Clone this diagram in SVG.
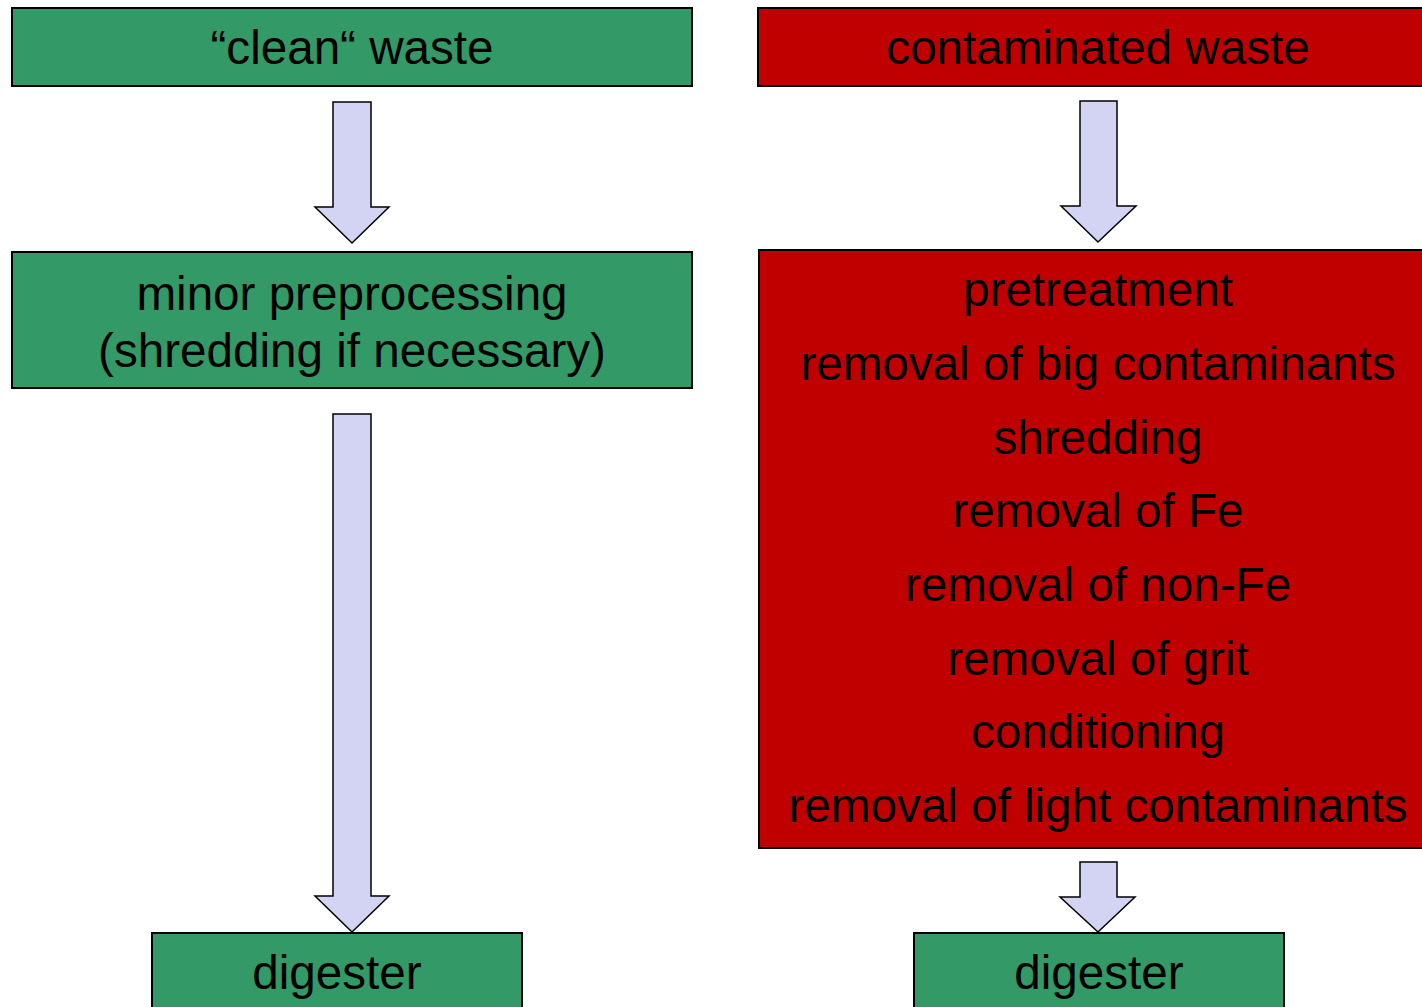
<svg xmlns="http://www.w3.org/2000/svg" width="1422" height="1007" viewBox="0 0 1422 1007">
<style>
.green{fill:#339966;stroke:#000;stroke-width:2}
.red{fill:#C00000;stroke:#000;stroke-width:2}
.arrow{fill:#D3D3F3;stroke:#000;stroke-width:1.5;stroke-linejoin:miter}
text{font-family:"Liberation Sans",Arial,sans-serif;font-size:47.6px;fill:#000;text-anchor:middle}
</style>
<g id="clean-waste"><rect class="green" x="12" y="8" width="680" height="78"/><text x="352" y="64">“clean“ waste</text></g>
<g id="contaminated-waste"><rect class="red" x="758" y="8" width="680" height="78"/><text x="1098" y="64">contaminated waste</text></g>
<g id="minor-preprocessing"><rect class="green" x="12" y="252" width="680" height="136"/><text x="352" y="310">minor preprocessing</text><text x="352" y="367">(shredding if necessary)</text></g>
<g id="pretreatment"><rect class="red" x="759" y="250" width="680" height="598"/>
<text x="1098" y="306">pretreatment</text>
<text x="1098" y="380">removal of big contaminants</text>
<text x="1098" y="454">shredding</text>
<text x="1098" y="527">removal of Fe</text>
<text x="1098" y="601">removal of non-Fe</text>
<text x="1098" y="675">removal of grit</text>
<text x="1098" y="748">conditioning</text>
<text x="1098" y="822">removal of light contaminants</text>
</g>
<g id="digester-left"><rect class="green" x="152" y="933" width="370" height="90"/><text x="337" y="989">digester</text></g>
<g id="digester-right"><rect class="green" x="914" y="933" width="370" height="90"/><text x="1099" y="989">digester</text></g>
<g id="connectors">
<path class="arrow" d="M333,102 H371 V207 H389 L352,243 L315,207 H333 Z"/>
<path class="arrow" d="M333,414 H371 V896 H389 L352,932 L315,896 H333 Z"/>
<path class="arrow" d="M1080,101 H1117 V206 H1136 L1098,242 L1061,206 H1080 Z"/>
<path class="arrow" d="M1080,862 H1117 V897 H1135 L1098,932 L1060,897 H1080 Z"/>
</g>
</svg>
